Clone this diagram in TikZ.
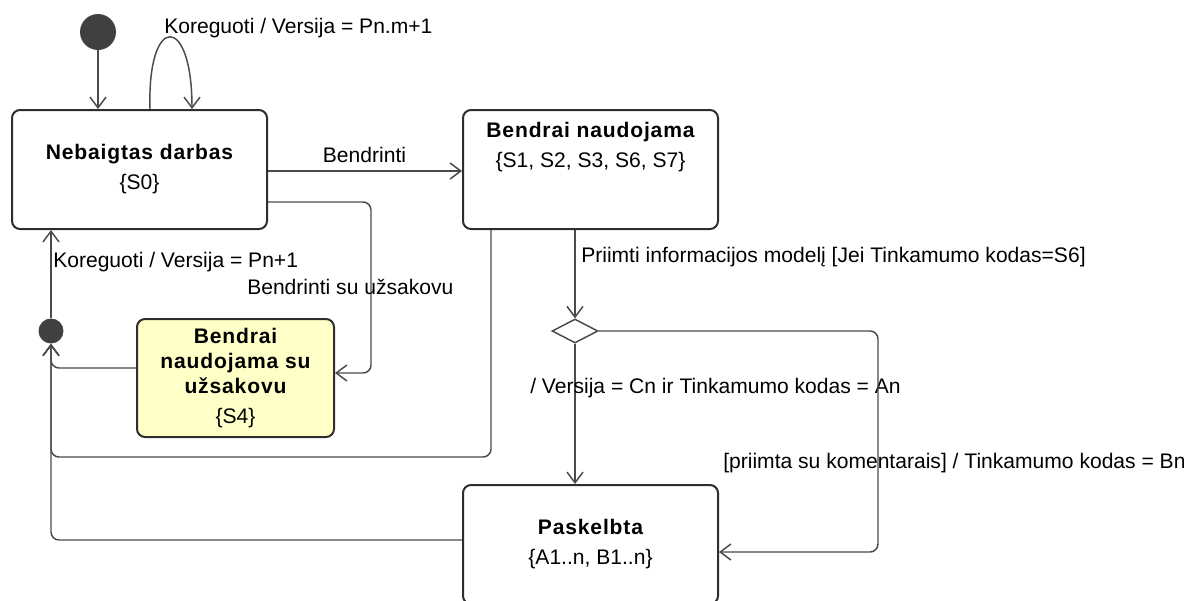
\documentclass[tikz,border=0pt]{standalone}
\usepackage{fontspec}
\setmainfont{Liberation Sans}
\newfontfamily\statetitle{Liberation Sans Bold}[LetterSpace=4]
\usetikzlibrary{arrows.meta,shapes.geometric}
\definecolor{linec}{HTML}{4A4A4A}
\definecolor{boxc}{HTML}{2E2E2E}
\definecolor{dotc}{HTML}{404040}
\definecolor{yelfill}{HTML}{FFFFC8}
\begin{document}
\begin{tikzpicture}[x=0.75pt,y=-0.75pt,
  font=\fontsize{15.8}{18.75}\selectfont,
  state/.style={draw=boxc,line width=1.5pt,rounded corners=6pt,inner sep=0pt,
    minimum width=191.25pt,minimum height=89.25pt,align=center,fill=white},
  dot/.style={circle,fill=dotc,draw=none,inner sep=0pt},
  conn/.style={draw=linec,line width=1.1pt},
  arr/.style={conn,-{Straight Barb[length=8pt,width=12pt]}},
  lbl/.style={inner sep=0pt,text=black}]
\useasboundingbox (0,0) rectangle (1184,600);
\clip (0,0) rectangle (1184,600);

% states
\node[state] (neb) at (139.5,169.5) {\statetitle Nebaigtas darbas\\[3.75pt]\{S0\}};
\node[state] (bn) at (590.5,169.5) {};
\node[lbl,align=center] (bnt) at (590.5,147.5) {\statetitle Bendrai naudojama\\[3.75pt]\{S1, S2, S3, S6, S7\}};
\node[state,fill=yelfill,minimum width=147.75pt,minimum height=88.5pt] (yel) at (235.5,378)
  {\statetitle Bendrai\\\statetitle naudojama su\\\statetitle užsakovu\\[3.75pt]\{S4\}};
\node[state] (pas) at (590.5,544.5) {\statetitle Paskelbta\\[3.75pt]\{A1..n, B1..n\}};

% pseudostates
\node[dot,minimum size=27pt] (init) at (98,32) {};
\node[dot,minimum size=18.75pt] (jn) at (51,331) {};
\node[diamond,draw=linec,line width=1.1pt,fill=white,inner sep=0pt,
  minimum width=34.5pt,minimum height=18pt] (dia) at (575,331) {};

% transitions
\draw[arr] (init) -- (init |- neb.north);
\draw[arr] (150,0 |- neb.north) .. controls (147,13) and (192,13) .. (192,0 |- neb.north);
\node[lbl,anchor=west] (lself) at (164,28) {Koreguoti / Versija = Pn.m+1};

\draw[arr] (neb.east |- 0,171) -- (bn.west |- 0,171);
\node[lbl] (lshare) at (364.5,155) {Bendrinti};

\draw[arr,rounded corners=6pt] (neb.east |- 0,202) -| (371,373) -- (yel.east |- 0,373);
\node[lbl,anchor=west] (lcust) at (247,287) {Bendrinti su užsakovu};

\draw[arr,rounded corners=6pt] (yel.west |- 0,368) -| (jn.south);
\draw[arr,rounded corners=6pt] (491,0 |- bn.south) |- (51,457) -- (jn.south);
\draw[arr,rounded corners=6pt] (pas.west |- 0,540) -| (jn.south);
\draw[arr] (jn.north) -- (jn |- neb.south);
\node[lbl,anchor=west] (lkor) at (53,262) {Koreguoti / Versija = Pn+1};

\draw[arr] (dia |- bn.south) -- (dia.north);
\node[lbl,anchor=west] (lacc) at (581,257) {Priimti informacijos modelį [Jei Tinkamumo kodas=S6]};

\draw[arr] (dia.south) -- (dia |- pas.north);
\node[lbl,anchor=west] (lver) at (530,388) {/ Versija = Cn ir Tinkamumo kodas = An};

\draw[arr,rounded corners=6pt] (dia.east) -| (878,552) -- (pas.east |- 0,552);
\node[lbl,anchor=west] (lcom) at (723,463) {[priimta su komentarais] / Tinkamumo kodas = Bn};
\end{tikzpicture}
\end{document}
